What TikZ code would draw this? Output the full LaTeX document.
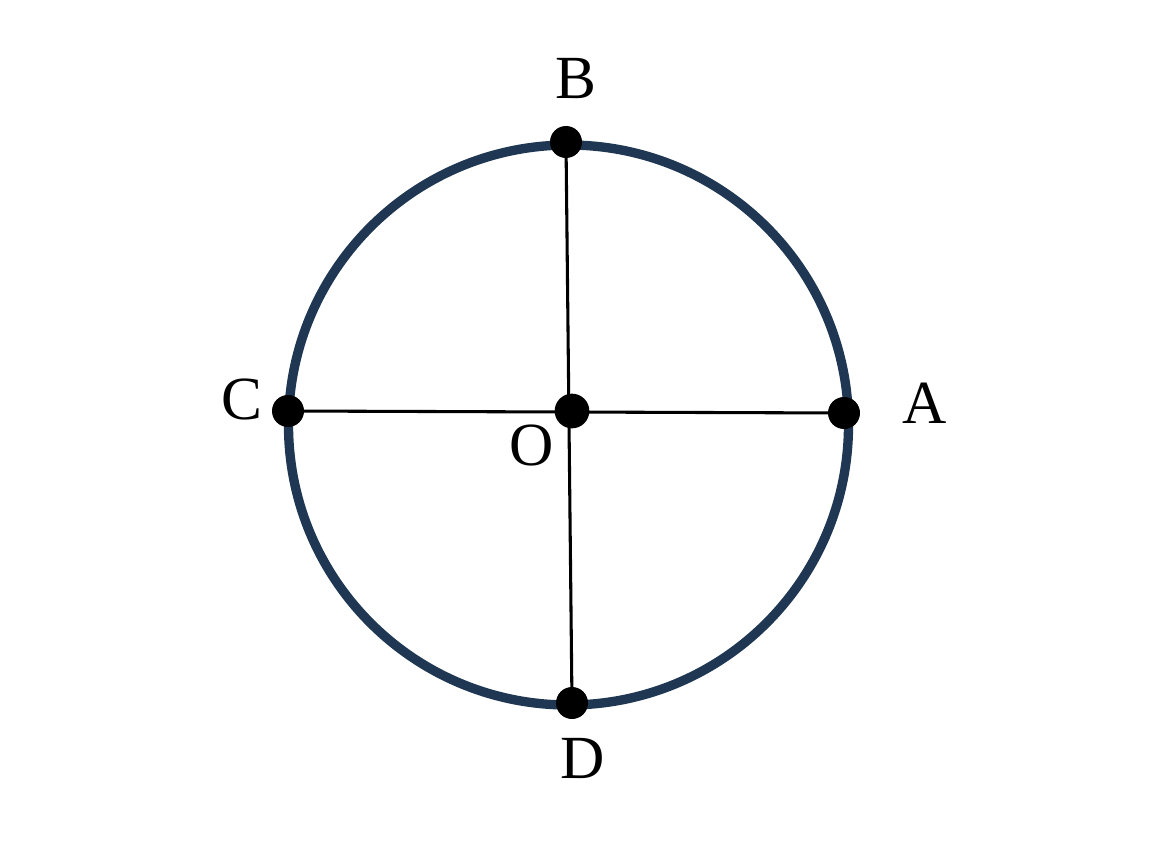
\documentclass[tikz,border=0pt]{standalone}
\usepackage{fontspec}
\setmainfont{Liberation Serif}
\definecolor{rim}{HTML}{1F3752}
\begin{document}
\begin{tikzpicture}[x=0.75pt,y=-0.75pt,
  dot/.style={circle,fill=black,inner sep=0pt,minimum size=24pt},
  lbl/.style={inner sep=0pt,font=\fontsize{46}{46}\selectfont},
  radius line/.style={line width=2.3pt,black}]
\useasboundingbox (0,0) rectangle (1158,842);
\coordinate (ctr) at (568.5,425);
\coordinate (a) at (844,413);
\coordinate (b) at (566,142);
\coordinate (c) at (288,411);
\coordinate (d) at (572,703);
\coordinate (o) at (572,411);
\draw[rim,line width=7pt] (ctr) circle[radius=280];
\draw[radius line] (c) -- (a);
\draw[radius line] (b) -- (d);
\node[dot] (A) at (a) {};
\node[dot] (B) at (b) {};
\node[dot] (C) at (c) {};
\node[dot] (D) at (d) {};
\node[dot,minimum size=26pt] (O) at (o) {};
\node[lbl] (lA) at (924.5,403) {A};
\node[lbl] (lB) at (576,78.5) {B};
\node[lbl] (lC) at (241.5,399) {C};
\node[lbl] (lD) at (583,758.5) {D};
\node[lbl] (lO) at (532,445.5) {O};
\end{tikzpicture}
\end{document}
